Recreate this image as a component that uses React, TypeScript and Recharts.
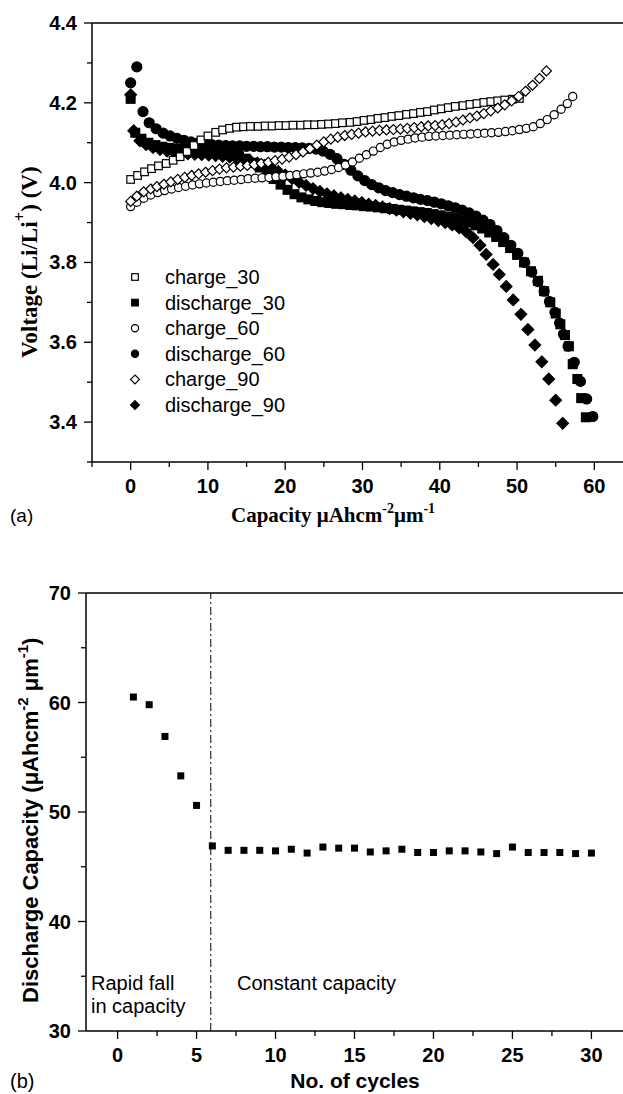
import React from "react";
import { Legend, ReferenceLine, Scatter, ScatterChart, XAxis, YAxis } from "recharts";

const SANS = "'Liberation Sans', Arial, sans-serif";
const SERIF = "'Liberation Serif', 'Times New Roman', serif";

// panel (a): [capacity, voltage]
const charge30: [number, number][] = [
  [0, 4.008], [0.9, 4.018], [1.8, 4.027], [2.7, 4.035], [3.6, 4.042], [4.6, 4.048], [5.5, 4.056], [6.4, 4.065],
  [7.3, 4.078], [8.2, 4.093], [9.1, 4.107], [10.0, 4.117], [11.0, 4.126], [11.9, 4.132], [12.8, 4.136], [13.7, 4.139],
  [14.6, 4.14], [15.5, 4.141], [16.5, 4.141], [17.4, 4.142], [18.3, 4.142], [19.2, 4.143], [20.1, 4.143], [21.0, 4.144],
  [22.0, 4.144], [22.9, 4.145], [23.8, 4.145], [24.7, 4.146], [25.6, 4.147], [26.5, 4.148], [27.4, 4.15], [28.4, 4.151],
  [29.3, 4.153], [30.2, 4.156], [31.1, 4.158], [32.0, 4.161], [32.9, 4.163], [33.8, 4.166], [34.7, 4.168], [35.7, 4.171],
  [36.6, 4.173], [37.5, 4.176], [38.4, 4.178], [39.3, 4.182], [40.2, 4.185], [41.1, 4.188], [42.0, 4.191], [43.0, 4.193],
  [43.9, 4.196], [44.8, 4.198], [45.7, 4.201], [46.6, 4.203], [47.5, 4.205], [48.4, 4.207], [49.4, 4.209], [50.3, 4.211],
];

const discharge30: [number, number][] = [
  [0, 4.21], [0.6, 4.125], [1.4, 4.11], [2.3, 4.1], [3.2, 4.094], [4.1, 4.09], [5.0, 4.087], [5.9, 4.085],
  [6.8, 4.084], [7.7, 4.083], [8.6, 4.082], [9.5, 4.081], [10.4, 4.08], [11.3, 4.078], [12.2, 4.076], [13.1, 4.072],
  [14.0, 4.067], [14.9, 4.06], [15.8, 4.05], [16.7, 4.038], [17.6, 4.024], [18.5, 4.009], [19.4, 3.995], [20.3, 3.982],
  [21.2, 3.971], [22.1, 3.963], [23.0, 3.958], [23.9, 3.954], [24.8, 3.951], [25.7, 3.949], [26.6, 3.947], [27.5, 3.946],
  [28.4, 3.944], [29.3, 3.943], [30.2, 3.941], [31.1, 3.94], [32.0, 3.938], [32.9, 3.936], [33.8, 3.934], [34.7, 3.932],
  [35.6, 3.93], [36.5, 3.928], [37.4, 3.926], [38.3, 3.924], [39.2, 3.921], [40.1, 3.918], [41.0, 3.915], [41.9, 3.911],
  [42.8, 3.906], [43.7, 3.9], [44.6, 3.893], [45.5, 3.885], [46.4, 3.875], [47.3, 3.864], [48.2, 3.851], [49.1, 3.836],
  [50.0, 3.819], [50.9, 3.8], [51.8, 3.778], [52.7, 3.754], [53.5, 3.728], [54.3, 3.7], [55.0, 3.672], [55.6, 3.645],
  [56.2, 3.618], [56.7, 3.59], [57.2, 3.545], [57.8, 3.508], [58.3, 3.46], [58.9, 3.412],
];

const charge60: [number, number][] = [
  [0, 3.94], [0.8, 3.951], [1.7, 3.961], [2.6, 3.969], [3.5, 3.975], [4.4, 3.98], [5.3, 3.984], [6.2, 3.988],
  [7.1, 3.991], [8.0, 3.994], [8.9, 3.997], [9.8, 3.999], [10.7, 4.001], [11.6, 4.003], [12.5, 4.005], [13.4, 4.006],
  [14.3, 4.008], [15.2, 4.01], [16.1, 4.011], [17.0, 4.012], [17.9, 4.013], [18.8, 4.015], [19.7, 4.016], [20.6, 4.018],
  [21.5, 4.02], [22.4, 4.022], [23.3, 4.024], [24.2, 4.026], [25.1, 4.029], [26.0, 4.033], [26.9, 4.038], [27.8, 4.044],
  [28.7, 4.052], [29.6, 4.061], [30.5, 4.07], [31.4, 4.079], [32.3, 4.088], [33.2, 4.096], [34.1, 4.102], [35.0, 4.106],
  [35.9, 4.109], [36.8, 4.112], [37.7, 4.114], [38.6, 4.116], [39.5, 4.117], [40.4, 4.118], [41.3, 4.119], [42.2, 4.12],
  [43.1, 4.121], [44.0, 4.122], [44.9, 4.123], [45.8, 4.124], [46.7, 4.125], [47.6, 4.126], [48.5, 4.128], [49.4, 4.13],
  [50.3, 4.133], [51.2, 4.136], [52.1, 4.14], [53.0, 4.148], [53.9, 4.158], [54.8, 4.17], [55.7, 4.184], [56.5, 4.198],
  [57.2, 4.216],
];

const discharge60: [number, number][] = [
  [0, 4.25], [0.8, 4.29], [1.6, 4.178], [2.4, 4.15], [3.3, 4.135], [4.2, 4.124], [5.1, 4.117], [6.0, 4.111],
  [6.9, 4.106], [7.8, 4.102], [8.7, 4.099], [9.6, 4.097], [10.5, 4.095], [11.4, 4.094], [12.3, 4.093], [13.2, 4.092],
  [14.1, 4.092], [15.0, 4.091], [15.9, 4.091], [16.8, 4.09], [17.7, 4.09], [18.6, 4.089], [19.5, 4.089], [20.4, 4.088],
  [21.3, 4.088], [22.2, 4.087], [23.1, 4.086], [24.0, 4.084], [24.9, 4.079], [25.8, 4.071], [26.7, 4.06], [27.6, 4.046],
  [28.5, 4.031], [29.4, 4.017], [30.3, 4.005], [31.2, 3.995], [32.1, 3.987], [33.0, 3.98], [33.9, 3.975], [34.8, 3.97],
  [35.7, 3.966], [36.6, 3.962], [37.5, 3.958], [38.4, 3.955], [39.3, 3.951], [40.2, 3.947], [41.1, 3.942], [42.0, 3.937],
  [42.9, 3.931], [43.8, 3.924], [44.7, 3.916], [45.6, 3.906], [46.5, 3.895], [47.4, 3.88], [48.3, 3.862], [49.2, 3.843],
  [50.1, 3.823], [51.0, 3.8], [51.9, 3.776], [52.7, 3.752], [53.5, 3.728], [54.2, 3.702], [54.9, 3.675], [55.5, 3.648],
  [56.0, 3.62], [56.6, 3.59], [57.4, 3.55], [58.2, 3.502], [59.0, 3.458], [59.8, 3.414],
];

const charge90: [number, number][] = [
  [0, 3.953], [0.8, 3.966], [1.7, 3.977], [2.6, 3.984], [3.4, 3.99], [4.3, 3.996], [5.2, 4.002], [6.1, 4.008],
  [7.0, 4.013], [7.9, 4.018], [8.8, 4.022], [9.7, 4.026], [10.6, 4.03], [11.5, 4.034], [12.4, 4.037], [13.3, 4.039],
  [14.2, 4.041], [15.1, 4.043], [16.0, 4.045], [16.9, 4.048], [17.8, 4.051], [18.7, 4.055], [19.6, 4.059], [20.5, 4.064],
  [21.4, 4.07], [22.3, 4.077], [23.2, 4.085], [24.1, 4.094], [25.0, 4.102], [25.9, 4.109], [26.8, 4.114], [27.7, 4.118],
  [28.6, 4.121], [29.5, 4.124], [30.4, 4.127], [31.3, 4.129], [32.2, 4.131], [33.1, 4.132], [34.0, 4.133], [34.9, 4.134],
  [35.8, 4.136], [36.7, 4.138], [37.6, 4.14], [38.5, 4.142], [39.4, 4.143], [40.3, 4.145], [41.2, 4.148], [42.1, 4.152],
  [43.0, 4.157], [43.9, 4.162], [44.8, 4.167], [45.7, 4.173], [46.6, 4.18], [47.5, 4.187], [48.4, 4.195], [49.3, 4.205],
  [50.2, 4.216], [51.1, 4.229], [52.0, 4.244], [52.9, 4.261], [53.8, 4.28],
];

const discharge90: [number, number][] = [
  [0, 4.22], [0.4, 4.13], [1.2, 4.105], [2.0, 4.095], [2.9, 4.088], [3.8, 4.083], [4.7, 4.079], [5.6, 4.076],
  [6.5, 4.074], [7.4, 4.072], [8.3, 4.071], [9.2, 4.07], [10.1, 4.069], [11.0, 4.068], [11.9, 4.066], [12.8, 4.064],
  [13.7, 4.061], [14.6, 4.058], [15.5, 4.054], [16.4, 4.049], [17.3, 4.043], [18.2, 4.036], [19.1, 4.028], [20.0, 4.019],
  [20.9, 4.01], [21.8, 4.001], [22.7, 3.993], [23.6, 3.985], [24.5, 3.978], [25.4, 3.972], [26.3, 3.967], [27.2, 3.962],
  [28.1, 3.958], [29.0, 3.954], [29.9, 3.95], [30.8, 3.946], [31.7, 3.943], [32.6, 3.939], [33.5, 3.935], [34.4, 3.931],
  [35.3, 3.927], [36.2, 3.923], [37.1, 3.919], [38.0, 3.915], [38.9, 3.91], [39.8, 3.905], [40.7, 3.9], [41.6, 3.894],
  [42.5, 3.887], [43.4, 3.877], [44.3, 3.862], [45.2, 3.843], [46.0, 3.82], [46.9, 3.795], [47.7, 3.77], [48.6, 3.74],
  [49.5, 3.706], [50.5, 3.67], [51.4, 3.632], [52.3, 3.593], [53.2, 3.551], [54.1, 3.508], [55.0, 3.455], [55.9, 3.397],
];

// panel (b)
const cycles = [1, 2, 3, 4, 5, 6, 7, 8, 9, 10, 11, 12, 13, 14, 15, 16, 17, 18, 19, 20, 21, 22, 23, 24, 25, 26, 27, 28, 29, 30];
const dischargeCapacity = [
  60.5, 59.8, 56.9, 53.3, 50.6, 46.9, 46.5, 46.5, 46.5, 46.45, 46.6, 46.25, 46.8, 46.7, 46.7,
  46.35, 46.45, 46.6, 46.3, 46.3, 46.45, 46.45, 46.35, 46.2, 46.8, 46.3, 46.3, 46.3, 46.2, 46.25,
];
const CHANGE_CYCLE = 5.9;

const capTicks = [-5, 0, 5, 10, 15, 20, 25, 30, 35, 40, 45, 50, 55, 60, 65];
const voltTicks = [3.3, 3.4, 3.5, 3.6, 3.7, 3.8, 3.9, 4.0, 4.1, 4.2, 4.3, 4.4];
const cycleTicks = [0, 2.5, 5, 7.5, 10, 12.5, 15, 17.5, 20, 22.5, 25, 27.5, 30];
const capacityTicks = [30, 35, 40, 45, 50, 55, 60, 65, 70];

type Kind = "square" | "circle" | "diamond";

function Marker({ cx, cy, kind, filled, legend }: { cx: number; cy: number; kind: Kind; filled: boolean; legend?: boolean }) {
  const fill = filled ? "#000" : "#fff";
  const sw = 1.2;
  if (kind === "square") {
    const h = legend ? 3.3 : filled ? 4.4 : 3.8;
    return <rect x={cx - h} y={cy - h} width={2 * h} height={2 * h} fill={fill} stroke="#000" strokeWidth={sw} />;
  }
  if (kind === "circle") {
    const r = legend ? 3.6 : filled ? 5 : 4.1;
    return <circle cx={cx} cy={cy} r={r} fill={fill} stroke="#000" strokeWidth={sw} />;
  }
  const d = legend ? 4.4 : filled ? 5.8 : 5;
  return (
    <polygon
      points={`${cx},${cy - d} ${cx + d},${cy} ${cx},${cy + d} ${cx - d},${cy}`}
      fill={fill}
      stroke="#000"
      strokeWidth={sw}
    />
  );
}

const SERIES: { name: string; data: [number, number][]; kind: Kind; filled: boolean }[] = [
  { name: "charge_30", data: charge30, kind: "square", filled: false },
  { name: "discharge_30", data: discharge30, kind: "square", filled: true },
  { name: "charge_60", data: charge60, kind: "circle", filled: false },
  { name: "discharge_60", data: discharge60, kind: "circle", filled: true },
  { name: "charge_90", data: charge90, kind: "diamond", filled: false },
  { name: "discharge_90", data: discharge90, kind: "diamond", filled: true },
];

// discharges underneath, charges on top
const drawOrder = [...SERIES.filter((s) => s.filled), ...SERIES.filter((s) => !s.filled)];

function makeXTick(isMajor: (v: number) => boolean, fmt: (v: number) => string) {
  return (props: any) => {
    const { x, y, payload } = props;
    const major = isMajor(payload.value);
    return (
      <g>
        <line x1={x} y1={y} x2={x} y2={y + (major ? 8 : 5)} stroke="#000" strokeWidth={1.3} />
        {major && (
          <text x={x} y={y + 31} textAnchor="middle" fontFamily={SANS} fontWeight="bold" fontSize={20} fill="#000">
            {fmt(payload.value)}
          </text>
        )}
      </g>
    );
  };
}

function makeYTick(isMajor: (v: number) => boolean, fmt: (v: number) => string) {
  return (props: any) => {
    const { x, y, payload } = props;
    const major = isMajor(payload.value);
    return (
      <g>
        <line x1={x - (major ? 8 : 5)} y1={y} x2={x} y2={y} stroke="#000" strokeWidth={1.3} />
        {major && (
          <text x={x - 15} y={y + 7} textAnchor="end" fontFamily={SANS} fontWeight="bold" fontSize={20} fill="#000">
            {fmt(payload.value)}
          </text>
        )}
      </g>
    );
  };
}

function LegendBox() {
  return (
    <svg width={220} height={160} style={{ display: "block" }}>
      {SERIES.map((s, i) => {
        const cy = 15 + i * 25.6;
        return (
          <g key={s.name}>
            <Marker cx={10} cy={cy} kind={s.kind} filled={s.filled} legend />
            <text x={40} y={cy + 7} fontFamily={SANS} fontSize={20} fill="#000">
              {s.name}
            </text>
          </g>
        );
      })}
    </svg>
  );
}

const axisLine = { stroke: "#000", strokeWidth: 1.5 };

export default function App() {
  const cycleData = cycles.map((c, i) => ({ x: c, y: dischargeCapacity[i] }));
  return (
    <div style={{ position: "absolute", left: 0, top: 0, width: 623, height: 1094, overflow: "hidden", background: "#fff" }}>
      <div style={{ position: "absolute", left: 0, top: 0 }}>
        <ScatterChart width={660} height={500} margin={{ top: 23, right: 27, bottom: 0, left: 0 }}>
          <XAxis
            type="number"
            dataKey="x"
            domain={[-5, 65]}
            ticks={capTicks}
            allowDataOverflow
            height={38}
            axisLine={axisLine}
            tickLine={false}
            tickSize={0}
            tickMargin={0}
            interval={0}
            tick={makeXTick((v) => v % 10 === 0, (v) => String(v))}
          />
          <YAxis
            type="number"
            dataKey="y"
            domain={[3.3, 4.4]}
            ticks={voltTicks}
            allowDataOverflow
            width={92}
            axisLine={axisLine}
            tickLine={false}
            tickSize={0}
            tickMargin={0}
            interval={0}
            tick={makeYTick((v) => Math.round(v * 10) % 2 === 0, (v) => v.toFixed(1))}
          />
          <ReferenceLine y={4.4} stroke="#000" strokeWidth={1.5} />
          {drawOrder.map((s) => (
            <Scatter
              key={s.name}
              name={s.name}
              data={s.data.map(([x, y]) => ({ x, y }))}
              isAnimationActive={false}
              shape={(p: any) => <Marker cx={p.cx} cy={p.cy} kind={s.kind} filled={s.filled} />}
            />
          ))}
          <Legend
            layout="horizontal"
            verticalAlign="middle"
            align="center"
            content={() => <LegendBox />}
            wrapperStyle={{ position: "absolute", left: 125, top: 262, width: 220, height: 160 }}
          />
        </ScatterChart>
      </div>

      <div style={{ position: "absolute", left: 0, top: 570 }}>
        <ScatterChart width={660} height={501} margin={{ top: 23, right: 37, bottom: 0, left: 0 }}>
          <XAxis
            type="number"
            dataKey="x"
            domain={[-2, 32]}
            ticks={cycleTicks}
            allowDataOverflow
            height={40}
            axisLine={axisLine}
            tickLine={false}
            tickSize={0}
            tickMargin={0}
            interval={0}
            tick={makeXTick((v) => v % 5 === 0, (v) => String(v))}
          />
          <YAxis
            type="number"
            dataKey="y"
            domain={[30, 70]}
            ticks={capacityTicks}
            allowDataOverflow
            width={86}
            axisLine={axisLine}
            tickLine={false}
            tickSize={0}
            tickMargin={0}
            interval={0}
            tick={makeYTick((v) => v % 10 === 0, (v) => String(v))}
          />
          <ReferenceLine y={70} stroke="#000" strokeWidth={1.5} />
          <ReferenceLine x={CHANGE_CYCLE} stroke="#000" strokeWidth={1} strokeDasharray="8 3 2 3" />
          <Scatter
            name="discharge capacity"
            data={cycleData}
            isAnimationActive={false}
            shape={(p: any) => <rect x={p.cx - 3.5} y={p.cy - 3.5} width={7} height={7} fill="#000" />}
          />
        </ScatterChart>
      </div>

      <svg width={623} height={1094} style={{ position: "absolute", left: 0, top: 0, pointerEvents: "none" }}>
        {/* panel (a) titles */}
        <text x={10} y={522} fontFamily={SANS} fontSize={19} fill="#000">(a)</text>
        <text x={231} y={522} fontFamily={SERIF} fontWeight="bold" fontSize={21} fill="#000">
          Capacity μAhcm
          <tspan dy={-9} fontSize={14}>-2</tspan>
          <tspan dy={9}>μm</tspan>
          <tspan dy={-9} fontSize={14}>-1</tspan>
        </text>
        <text x={37} y={358} transform="rotate(-90 37 358)" fontFamily={SERIF} fontWeight="bold" fontSize={23} fill="#000">
          Voltage (Li/Li
          <tspan dy={-12} fontSize={17}>+</tspan>
          <tspan dy={12}>) (V)</tspan>
        </text>

        {/* panel (b) titles and notes */}
        <text x={10} y={1088} fontFamily={SANS} fontSize={20} fill="#000">(b)</text>
        <text x={355} y={1088} textAnchor="middle" fontFamily={SANS} fontWeight="bold" fontSize={21} fill="#000">
          No. of cycles
        </text>
        <text x={38} y={1003} transform="rotate(-90 38 1003)" fontFamily={SANS} fontWeight="bold" fontSize={22} fill="#000">
          Discharge Capacity (μAhcm
          <tspan dy={-10} fontSize={15}>-2</tspan>
          <tspan dy={10}> μm</tspan>
          <tspan dy={-10} fontSize={15}>-1</tspan>
          <tspan dy={10}>)</tspan>
        </text>
        <text x={91} y={990} fontFamily={SANS} fontSize={20} fill="#000">Rapid fall</text>
        <text x={91} y={1013} fontFamily={SANS} fontSize={20} fill="#000">in capacity</text>
        <text x={237} y={990} fontFamily={SANS} fontSize={20} fill="#000">Constant capacity</text>
      </svg>
    </div>
  );
}
